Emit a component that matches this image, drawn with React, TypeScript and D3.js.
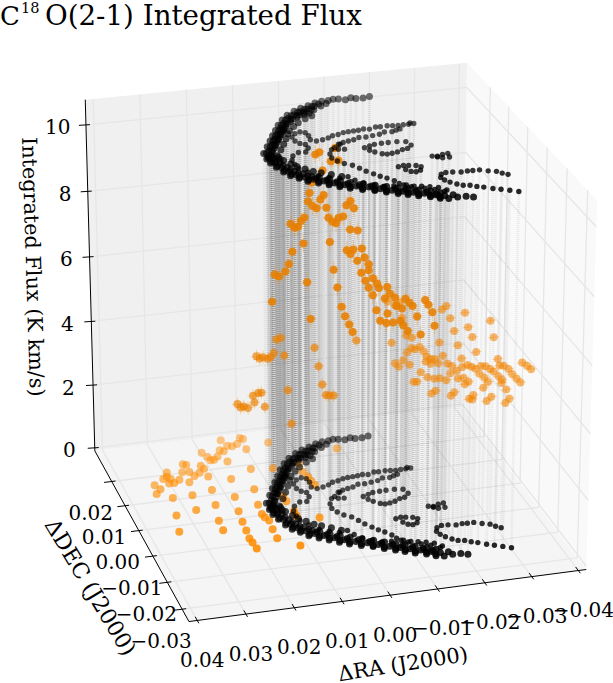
import * as d3 from "d3";

// ticks
const raTicks = [0.04, 0.03, 0.02, 0.01, 0, -0.01, -0.02, -0.03, -0.04];
const decTicks = [0.02, 0.01, 0, -0.01, -0.02, -0.03];
const zTicks = [0, 2, 4, 6, 8, 10];

// contour of the model disk, [dRA, dDEC] in 1e-3 deg, same points at both flux levels
const contourOuter = [[-16.9,24.5],[-15.35,24.1],[-13.8,24.1],[-12.9,24.7],[-11.5,24.1],[-10.2,24.7],[-9.1,24.9],[-7.9,24.5],[-6.45,24.4],[-4.8,23.9],[-3,23],[-1.1,22.1],[.7,21],[2.7,19.5],[4.45,17.5],[6.05,15.3],[7.4,13],[8.8,10.7],[10.1,8.4],[11.5,6],[13.2,3.1],[13.4,.6],[13.3,-1.4],[12.8,-3.5],[12.1,-5.9],[11.3,-7.8],[10.05,-9.3],[8.8,-10.9],[7.05,-12.2],[5.3,-13.4],[3.55,-14.7],[1.8,-15.8],[-.35,-16.9],[-2.55,-17.8],[-4.5,-19],[-6.5,-20.1],[-8.2,-21],[-10,-22],[-12.1,-22.9],[-13.7,-24],[-15.3,-24.4],[-17.2,-24.2],[-18.9,-24.3],[-20.2,-24.9]];
const contourOuterFill = [[-5.4,23.3],[-3.6,22.4],[-1.7,21.5],[.1,20.5],[2,19.1],[3.8,17.3],[5.5,15],[6.9,12.6],[8.3,10.4],[9.6,8.1],[11,5.7],[12.6,3.1],[13,1],[12.9,-.9],[12.4,-3],[11.7,-5.3],[10.9,-7.2],[9.7,-8.8],[8.4,-10.4],[6.7,-11.6],[5,-12.8],[3.2,-14.1],[1.5,-15.2],[-.6,-16.3],[-2.7,-17.4],[-4.7,-18.5],[-6.8,-19.5],[-8.5,-20.4],[-10.3,-21.4],[-12.3,-22.3],[-13.9,-23.3]];
const contourMiddle = [[-4.1,22.4],[-2.3,21.5],[-.4,20.5],[1.4,19.3],[3.1,17.9],[4.7,15.9],[6.1,13.6],[7.5,11.3],[8.9,9],[10.2,6.7],[11.8,4],[12.7,1.6],[12.7,.5],[12.4,-1.5],[11.8,-3.8],[11,-5.9],[10,-7.6],[8.7,-9.1],[7.3,-10.4],[5.7,-11.6],[3.9,-12.85],[2.2,-14.05],[.2,-15.15],[-1.95,-16.15],[-3.9,-17.3],[-5.9,-18.5],[-7.8,-19.4],[-9.6,-20.3],[-11.5,-21.2],[-13.4,-22.3],[-15,-23],[-16.7,-23.1]];
const contourMiddleFill = [[-3,21],[-1,20],[.8,18.9],[2.7,17.3],[4.4,15.3],[5.8,13.1],[7.1,10.9],[8.4,8.6],[9.8,6.3],[11.3,3.7],[12.3,1.5],[12,-.9],[11.2,-3],[10.4,-5.2],[9.4,-7.1],[8,-8.7],[6.7,-9.9],[5,-11.3],[3.3,-12.5],[1.5,-13.7],[-.5,-14.7],[-2.6,-15.8],[-4.7,-16.9],[-6.7,-17.9],[-8.5,-18.8],[-10.3,-19.8],[-12.2,-20.8],[-13.8,-21.9]];
const contourInner = [[-1.6,20.1],[.2,19],[2.2,17.5],[4,15.5],[5.5,13.3],[6.3,12],[7.7,9.7],[9,7.4],[10.4,5],[12.1,2.1],[12,1.4],[11.9,.4],[11.4,-1.7],[10.7,-4.1],[9.9,-6],[8.65,-7.5],[7.4,-9.1],[6.05,-9.8],[4.3,-11],[2.55,-12.3],[.8,-13.4],[-1.35,-14.5],[-3.45,-15.6],[-5.4,-16.7],[-7.4,-17.8],[-9.1,-18.6],[-10.9,-19.6],[-13,-20.6],[-14.6,-21.7]];
const contourInnerFill = [[-7,23.2],[-5.5,22.2],[-3.5,20.8],[-2,19.4],[-.8,19],[1,18.2],[3,16.5],[4.8,14.4],[5.9,12.6],[7,10.8],[8.3,8.5],[9.7,6.2],[11.2,3.6]];
const contourInnerFar = [[-2.1,18.1],[-.3,17],[1.7,15.5],[3.2,14],[4.7,12.2],[5.5,10.9],[6.6,8.7],[7.9,6.4],[9.3,4],[10.9,1.5],[10.9,.8],[10.9,-.2],[10.4,-.9],[9.5,-2.7],[8.7,-4.2],[7.5,-5.5],[6.3,-7],[5,-7.9],[3.3,-9.1],[1.6,-10.4]];
const branchUpper = [[-21.05,9.8],[-19.9,9.7],[-18.75,9.7],[-17.6,9.6],[-16.5,9.8],[-15.4,10],[-13.9,9.9],[-12.9,10],[-11.35,9.3],[-10.2,9.6],[-9,9.3],[-7.9,9.2],[-6.75,9.1],[-5.6,8.9],[-4.3,8.3],[-3,8],[-1.8,7.2],[-.4,6.6],[1,6.3]];
const branchSecond = [[-20.4,10.2],[-17.4,8],[-16.4,7.6],[-15.35,7.1],[-13.8,7.3],[-12.45,6.5],[-10.9,6.2],[-9.35,5.9],[-7.9,6],[-6.5,5.2],[-5.25,4.9],[-4,4.5],[-2.8,3.9],[-1.5,2.5],[-.6,1.8]];
const curl = [[2,7.15],[1.7,9.1],[1.9,10.6],[2.8,11.2],[4.1,10.6],[5.2,9.2],[5.2,7.3],[4.6,6],[3.7,5.3],[3.7,3.6],[4.8,1.9],[6.3,2],[7.9,.7],[8.7,-1.1],[8.8,-3.1]];
const knot = [[-2,1.65],[-3.2,1.4],[-3.1,3.8]];
const branchLong = [[.4,-.1],[.65,-1.9],[.05,-3.5],[-.9,-4.9],[-2.2,-6],[-3.1,-7.6],[-3.9,-9.2],[-4.9,-10.7],[-5.8,-12],[-6.8,-13.1],[-7.8,-14.5],[-8.3,-15.9],[-9.4,-16.9],[-10.1,-17.8],[-12.1,-18.1],[-13.6,-18.7],[-15.1,-19.4],[-16.3,-20.8]];
const oval = [[-7.3,1.1],[-8.6,1.7],[-9.8,2.2],[-11.35,2.35],[-12.8,2.4],[-14.65,2.4],[-16.4,2],[-16.85,.2],[-15.6,-1.1],[-14.4,-1.4],[-13.05,-2.2],[-11.8,-2.55],[-10.7,-2.7],[-9.8,-2.3],[-8.65,-1.2],[-7.9,-.2]];
const blobFar = [[-19.1,-5.6],[-20.1,-5.9],[-21.4,-5.3],[-22.6,-5.1],[-22.3,-6.8],[-20.85,-6.8],[-20,-6.2]];
const blobNear = [[-10.8,-8.75],[-12,-8.4],[-13,-8.6],[-14.4,-9],[-15.2,-9.7],[-14.5,-11.2],[-13.4,-11.7],[-12.5,-11.3],[-11.75,-10.3]];
const hookUpper = [[-17.8,-13.9],[-19,-13.3],[-20.4,-13.4],[-22,-13.8],[-23.4,-13.6],[-24.5,-13.7],[-25.9,-13.7],[-27.4,-14.5],[-28.9,-15.1],[-29.7,-16.1],[-30.6,-16.9]];
const hookLower = [[-17.2,-15.2],[-17.5,-16.5],[-18.2,-17.6],[-19.2,-18.7],[-20.2,-19.5],[-21.5,-19.8],[-22.6,-20.6],[-23.8,-21.2],[-25.3,-22.2],[-26.7,-22.9],[-28.2,-23.7],[-29.7,-24.6]];
const branchFront = [[8.65,-5],[7.4,-6.9],[5.95,-9],[4.2,-10.25],[2.3,-11.1],[.45,-10.8],[-.35,-12.6],[-1.6,-14.2],[-3.25,-15.5],[-5,-16.6],[-6.9,-16.7],[-8.9,-16.8],[-10.7,-17.7],[-12.4,-19.1],[-14.1,-20],[-15.7,-21.2]];
const contourBand = [contourOuter, contourOuterFill, contourMiddle, contourMiddleFill, contourInner, contourInnerFill, contourInnerFar].flat();
const contourTracks = [branchUpper, branchSecond, curl, knot, branchLong, oval, blobFar, blobNear, hookUpper, hookLower, branchFront].flat();
const contourPoints = [...contourBand, ...contourTracks];

// orange points on the floor, [dRA, dDEC] in 1e-3 deg
const floorPoints = [[14.5,30],[10.25,29.9],[9.7,29.4],[10.35,25.1],[13.9,27.4],[12.9,27],[11.6,27.6],[15.3,25.4],[16,26],[17.25,23.6],[18.4,22.5],[19.2,22.4],[19.4,23.9],[20.1,25.8],[15.85,21.1],[12,17],[17.3,14.1],[21.7,16.1],[21.6,19.4],[21.9,20.7],[23,18],[24.45,17],[25,18.8],[24.8,21.7],[25.4,22.2],[26.5,19],[26.25,14.8],[28,16.2],[29.4,15.2],[30.5,15.3],[29.7,16.9],[29.7,19.7],[30.2,18],[31.2,17.3],[33.7,15.3],[33,13.4],[34.3,11.8],[31.5,9.5],[27.2,9.6],[22.6,10.7],[18.8,7],[13.9,9],[15.1,2.9],[23.7,4.8],[28.2,3.8],[32.8,2.7],[34.1,-3.5],[24.9,-1.2],[25.2,-5],[19.8,1.4],[20.3,-2.7],[20.6,-6.1],[20.95,-9.2],[20.8,-10.8],[20.7,-13.2],[15.45,-.7],[15.3,-2.1],[14.8,-3.5],[15.2,-6.9],[15.4,-10.4],[4.9,26.7],[7.35,16.3],[1.4,16.9],[1.7,13.5],[1.25,11.4],[1.2,9.5],[.95,7.8],[8.9,2.9],[8.95,4.9],[8.6,-1.1],[8.7,-3],[4.3,-4.7],[11.7,-14.1],[-8.6,21]];

// integrated flux, [dRA in 1e-3 deg, K km/s], dDEC kept at the map centre
const fluxRidge = [[3.45,10.57],[2.6,10.63],[-.7,10.7],[.2,10.33],[-1.4,10.33],[1.95,10.09],[4.2,9.77],[4.7,9.47],[1.7,9.37],[5,9.23],[2.4,9.25],[4.05,9.08],[3.2,9],[1.15,8.99],[-3.1,9],[-3.95,9.11],[-4.7,8.89],[.7,8.69],[-.15,8.56],[-.9,8.5],[-1.4,8.65],[-2.4,8.68],[-3.9,8.27],[-5.5,8.22],[8.7,8.63],[7.85,8.5],[7.15,8.52],[6.5,8.68],[5.8,8.77],[.4,7.97],[6,8.01],[-3.2,7.67],[-4.6,7.67],[-4,7.55],[-6.4,7.67],[-7,7.4],[-5.45,7.32],[8.35,7.8],[9.1,7.45],[9.85,7.24],[12.1,7.18],[11.2,7.11],[-.4,7.13],[-6.3,6.95],[-7.9,7.18],[-7.9,7],[-7.2,6.7],[-8.8,6.75],[-7.9,6.48],[-9.7,6.58],[-8.8,6.24],[-11.4,6.1],[-10.1,6.44],[-11.9,6.44],[-12.5,6.23],[-13.6,6.09],[-15.8,6.03],[-16.7,5.89],[-17.4,5.78],[-20.1,5.92],[-20.8,5.77],[-21.7,5.53],[-13.9,5.84],[-15.1,5.74],[-9.6,5.78],[-12,5.64],[-18.4,5.45],[5.25,6.85],[-1.2,6.59],[12.7,6.38],[-2.1,6],[-2.85,5.7],[-3.75,5.44],[-4.5,5.2],[4.5,5.74],[-10.4,5.45],[-11.75,5.36],[-13.2,5.35],[-14.8,5.37],[-15.4,5.23],[-16.4,5.04],[-19.2,4.89],[-22.2,5.11]];
const fluxPlume = [[-12,6],[-13.6,5.87],[-14.6,5.93],[-23.8,5.58],[-24.7,5.67],[-28.8,5.4],[-25.6,5.28],[-34.4,5.07],[-15.1,5.46],[-29.55,4.95],[-26.5,4.88],[-30.5,4.63],[-35.2,4.55],[-23.3,4.58],[-27.35,4.43],[-12.9,4.74],[-31.4,4.16],[-16.1,4.91],[-17.3,4.82],[-16.3,4.39],[-17.2,4.51],[-18,4.46],[-19,4.51],[-19.9,4.36],[-20.6,4.2],[-21.45,4.1],[-24.1,4.16],[-22.3,4.09],[-23.1,3.95],[-28.2,4.01],[-13.7,4.1],[-14.5,3.98],[-15.45,4.17],[-16.85,4.01],[-20.4,4.05],[-21.5,3.96],[-25.1,3.91],[-26.1,3.82],[-27.2,3.65],[-28.4,3.75],[-29.5,3.79],[-30.4,3.72],[-31.3,3.65],[-32.5,3.71],[-33.5,3.69],[-34.5,3.59],[-35.3,3.5],[-36.2,3.87],[-36.6,3.66],[-37.5,3.64],[-38.6,3.52],[-39.4,3.35],[-40.4,3.2],[-41.3,3.06],[-41.6,3.67],[-42.7,3.55],[-43.6,3.43],[-19.3,3.74],[-25.8,3.6],[-32.2,3.48],[-33.3,3.34],[-36.35,3.34],[-37.2,3.21],[-20.8,3.56],[-22.3,3.49],[-23.5,3.48],[-27.5,3.41],[-28.7,3.41],[-29.8,3.27],[-29,3.21],[-24.9,3.4],[-17.8,3.47],[-18.5,3.46],[-34.1,3.19],[-37.1,3.11],[-33.1,3.03],[-38.2,2.89],[-26.7,3],[-22.6,3.11],[-21.7,3.04],[-26,2.9],[-30.9,2.84],[-30,2.74],[-30.7,2.71],[-34.9,2.72],[-33.9,2.61],[-38.05,2.48],[-38.9,2.6]];
const fluxWing = [[11.85,5.24],[10.9,5.27],[3.7,4.86],[2.85,4.28],[2.05,3.71],[1.25,3.38],[.55,3.35],[-.4,3.34],[10.2,4.73],[12.4,4.84],[16.1,4.8],[15.4,4.72],[14.7,4.75],[13.75,4.69],[13.05,4.72],[9.45,3.66],[14.4,3.24],[15.8,3.68],[15.1,3.68],[16.9,3.62],[16.6,3.41],[18,3.26],[18.9,3.32],[19.55,3.3],[20.25,3.42],[8.7,2.62],[-5.3,4.93]];
const fluxErrRidge = 0.26, fluxErrPlume = 0.1, fluxErrWing = 0.2, raErr = 0.0012;

const contourTopFlux = 10.55;
const W = 613, H = 683;
const ORANGE = "#ff8c00";
const elev = (24 * Math.PI) / 180, azim = (-106 * Math.PI) / 180, dist = 10;
const uScale = d3.scaleLinear().domain([0.0417, -0.0417]).range([-0.5, 0.5]);
const vScale = d3.scaleLinear().domain([-0.0345, 0.033]).range([-0.5, 0.5]);
const wScale = d3.scaleLinear().domain([-0.1, 10.75]).range([-0.5, 0.5]);
const sx = d3.scaleLinear().domain([-1, 1]).range([333 - 405, 333 + 405]);
const sy = d3.scaleLinear().domain([-1, 1]).range([332 + 394, 332 - 394]);
const blackAlpha = d3.scaleLinear().domain([-0.024, 0.025]).range([0.85, 0.55]).clamp(true);
const floorAlpha = d3.scaleLinear().domain([-0.014, 0.03]).range([0.9, 0.45]).clamp(true);

// same perspective as mplot3d: rotate around the cube centre then divide by depth
const proj = (u: number, v: number, w: number): [number, number] => {
  const cosE = Math.cos(elev), sinE = Math.sin(elev), cosA = Math.cos(azim), sinA = Math.sin(azim);
  const xr = -sinA * u + cosA * v;
  const yr = -sinE * cosA * u - sinE * sinA * v + cosE * w;
  const d = cosE * cosA * u + cosE * sinA * v + sinE * w;
  const s = dist / (dist - d);
  return [sx(xr * s), sy(yr * s)];
};
const dataPos = (ra: number, dec: number, z: number) => proj(uScale(ra), vScale(dec), wScale(z));
const cubePath = (pts: number[][]) => "M" + pts.map((p) => proj(p[0], p[1], p[2]).map((n) => n.toFixed(2)).join(",")).join("L");
const dataPath = (a: [number, number, number], b: [number, number, number]) => {
  const p = dataPos(...a), q = dataPos(...b);
  return `M${p[0].toFixed(2)},${p[1].toFixed(2)}L${q[0].toFixed(2)},${q[1].toFixed(2)}`;
};
const tickText = (t: number) => d3.format(".2f")(t).replace("-", "\u2212");

const gridStroke = { fill: "none", stroke: "#e6e6e6", strokeWidth: 1.3 };

function Contour({ flux }: { flux: number }) {
  const dot = (p: number[], i: number, r: number) => {
    const [x, y] = dataPos(p[0] / 1000, p[1] / 1000, flux);
    return <circle key={`${r}-${i}`} cx={x} cy={y} r={r} fill="#000" fillOpacity={blackAlpha(p[1] / 1000)} />;
  };
  return (
    <g>
      {contourTracks.map((p, i) => dot(p, i, 2.7))}
      {contourBand.map((p, i) => dot(p, i, 3.5))}
    </g>
  );
}

function FluxGroup({ points, err, alpha, fill }: { points: number[][]; err: number; alpha: number; fill: string }) {
  return (
    <g>
      {points.map((p, i) => {
        const ra = p[0] / 1000, f = p[1];
        const [x, y] = dataPos(ra, 0, f);
        return (
          <g key={i}>
            <path d={dataPath([ra, 0, f - err], [ra, 0, f + err]) + dataPath([ra - raErr, 0, f], [ra + raErr, 0, f])} stroke={ORANGE} strokeOpacity={0.35} strokeWidth={1} fill="none" />
            <circle cx={x} cy={y} r={4} fill={fill} fillOpacity={alpha} />
          </g>
        );
      })}
    </g>
  );
}

export default function App() {
  return (
    <svg width={W} height={H} style={{ position: "absolute", left: 0, top: 0 }} fontFamily="'DejaVu Serif', serif" fill="#000">
      <path d={cubePath([[-.5,.5,-.5],[.5,.5,-.5],[.5,.5,.5],[-.5,.5,.5]]) + "Z"} fill="#f0f0f0" />
      <path d={cubePath([[.5,-.5,-.5],[.5,.5,-.5],[.5,.5,.5],[.5,-.5,.5]]) + "Z"} fill="#f9f9f9" />
      <path d={cubePath([[-.5,-.5,-.5],[.5,-.5,-.5],[.5,.5,-.5],[-.5,.5,-.5]]) + "Z"} fill="#f5f5f5" />
      {raTicks.map((t) => <path key={"r" + t} {...gridStroke} d={cubePath([[uScale(t),-.5,-.5],[uScale(t),.5,-.5],[uScale(t),.5,.5]])} />)}
      {decTicks.map((t) => <path key={"d" + t} {...gridStroke} d={cubePath([[-.5,vScale(t),-.5],[.5,vScale(t),-.5],[.5,vScale(t),.5]])} />)}
      {zTicks.map((t) => <path key={"z" + t} {...gridStroke} d={cubePath([[-.5,.5,wScale(t)],[.5,.5,wScale(t)],[.5,-.5,wScale(t)]])} />)}

      <path fill="none" stroke="#000" strokeWidth={1} d={cubePath([[-.5,.5,.5],[-.5,.5,-.5],[-.5,-.5,-.5],[.5,-.5,-.5]])} />
      {raTicks.map((t) => {
        const [x, y] = proj(uScale(t), -.5, -.5);
        return (
          <g key={t}>
            <path stroke="#000" fill="none" d={cubePath([[uScale(t),-.515,-.5],[uScale(t),-.48,-.5]])} />
            <text x={x + 5} y={y + 41} fontSize={20} textAnchor="middle" dominantBaseline="middle">{tickText(t)}</text>
          </g>
        );
      })}
      {decTicks.map((t) => {
        const [x, y] = proj(-.5, vScale(t), -.5);
        return (
          <g key={t}>
            <path stroke="#000" fill="none" d={cubePath([[-.52,vScale(t),-.5],[-.49,vScale(t),-.5]])} />
            <text x={x - 21} y={y + 33} fontSize={20} textAnchor="middle" dominantBaseline="middle">{tickText(t)}</text>
          </g>
        );
      })}
      {zTicks.map((t) => {
        const [x, y] = proj(-.5, .5, wScale(t));
        return (
          <g key={t}>
            <path stroke="#000" fill="none" d={`M${x - 7},${y + 0.5}L${x + 4},${y - 0.2}`} />
            <text x={x - 19 + t * 0.35} y={y + 4} fontSize={20} textAnchor="end" dominantBaseline="middle">{t}</text>
          </g>
        );
      })}

      {/* curtain joining both contour levels */}
      <g stroke="#000" strokeOpacity={0.07} strokeWidth={2.6} strokeDasharray="1 1" fill="none">
        {contourPoints.map((p, i) => (
          <path key={i} d={dataPath([p[0] / 1000, p[1] / 1000, 0], [p[0] / 1000, p[1] / 1000, contourTopFlux])} />
        ))}
      </g>

      {floorPoints.map((p, i) => {
        const [x, y] = dataPos(p[0] / 1000, p[1] / 1000, 0);
        return <circle key={i} cx={x} cy={y} r={4} fill={ORANGE} fillOpacity={floorAlpha(p[1] / 1000)} />;
      })}
      <Contour flux={0} />
      <FluxGroup points={fluxWing} err={fluxErrWing} alpha={0.65} fill="#ea8000" />
      <FluxGroup points={fluxPlume} err={fluxErrPlume} alpha={0.55} fill="#f08400" />
      <FluxGroup points={fluxRidge} err={fluxErrRidge} alpha={0.88} fill="#e67e00" />
      <Contour flux={contourTopFlux} />

      <text fontSize={20.8} textAnchor="middle" transform="translate(26,267) rotate(88.2)">Integrated Flux (K km/s)</text>
      <text fontSize={22} textAnchor="middle" transform="translate(84,591) rotate(59)">{"\u0394DEC (J2000)"}</text>
      <text fontSize={21} textAnchor="middle" transform="translate(404,671) rotate(-8.9)">{"\u0394RA (J2000)"}</text>
      <text x={0} y={25} fontSize={26}>C</text>
      <text x={21} y={13} fontSize={14.5}>18</text>
      <text x={45} y={25} fontSize={27.7}>O(2-1) Integrated Flux</text>
    </svg>
  );
}
